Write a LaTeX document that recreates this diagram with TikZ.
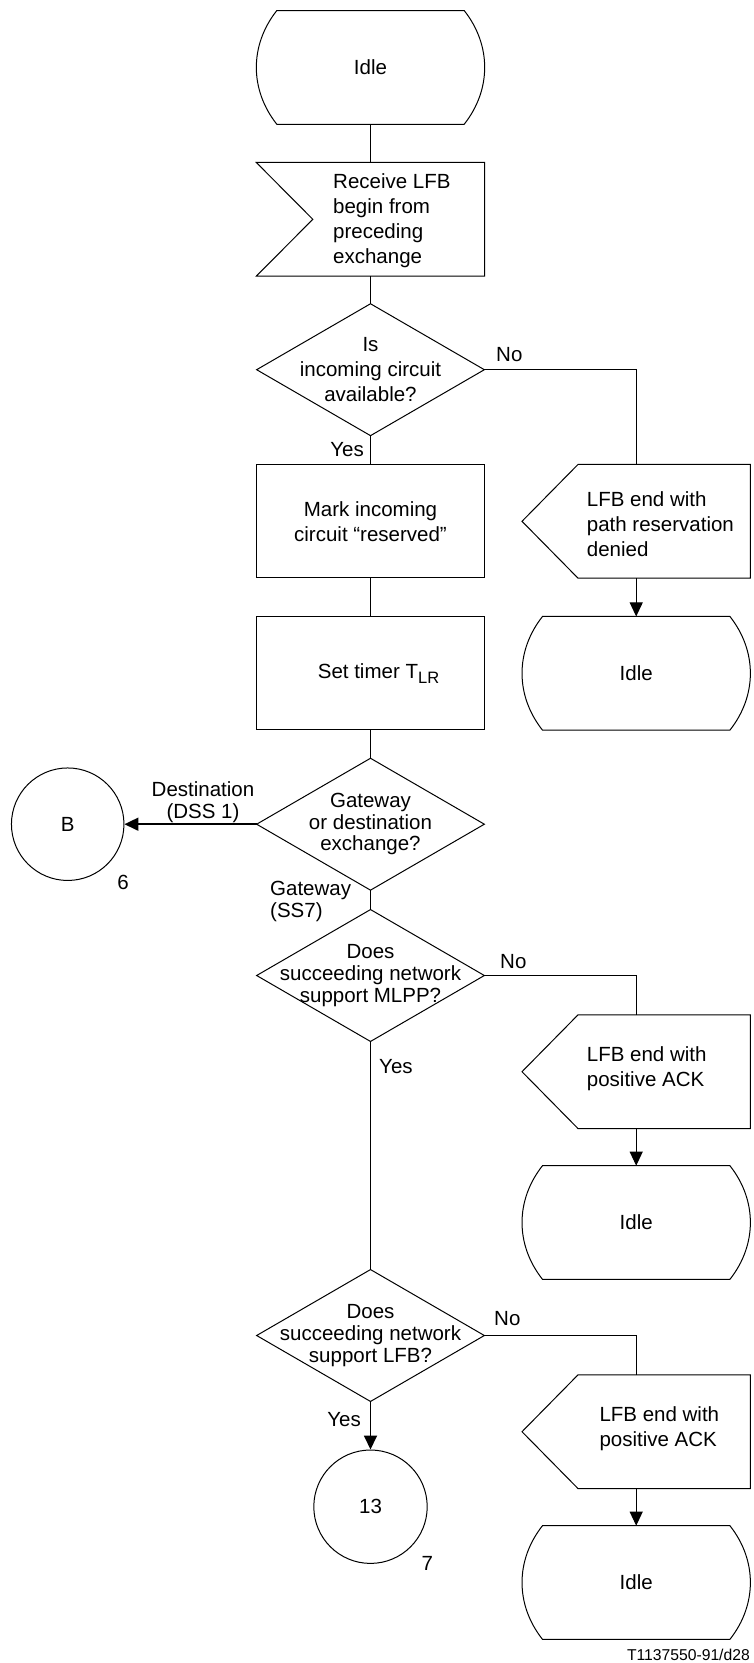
\documentclass[tikz,border=0pt]{standalone}
\usepackage{fontspec}
\setmainfont{Liberation Sans}
\usetikzlibrary{arrows.meta}

% outlines of the SDL symbols, drawn around invisible rectangular nodes
\newcommand\drawidle[1]{%
  \draw[shapeline] ([xshift=20.5pt]#1.north west) -- ([xshift=-20.5pt]#1.north east)
    .. controls ([xshift=6.8pt,yshift=-34.6pt]#1.north east) and ([xshift=6.8pt,yshift=34.6pt]#1.south east)
    .. ([xshift=-20.5pt]#1.south east) -- ([xshift=20.5pt]#1.south west)
    .. controls ([xshift=-6.8pt,yshift=34.6pt]#1.south west) and ([xshift=-6.8pt,yshift=-34.6pt]#1.north west)
    .. cycle;}
\newcommand\drawsend[1]{%
  \draw[shapeline] (#1.north east) -- (#1.south east) -- ([xshift=56pt]#1.south west)
    -- (#1.west) -- ([xshift=56pt]#1.north west) -- cycle;}
\newcommand\drawrecv[1]{%
  \draw[shapeline] (#1.north west) -- (#1.north east) -- (#1.south east)
    -- (#1.south west) -- ([xshift=56.5pt]#1.west) -- cycle;}
\newcommand\drawdiamond[1]{%
  \draw[shapeline] (#1.north) -- (#1.east) -- (#1.south) -- (#1.west) -- cycle;}

\begin{document}
\begin{tikzpicture}[x=1pt,y=-1pt,
  txtfont/.style={font=\fontsize{20.5pt}{25pt}\selectfont, inner sep=0pt},
  tight/.style={font=\fontsize{20.5pt}{21.6pt}\selectfont, inner sep=0pt},
  shapebox/.style={txtfont, rectangle, minimum width=228pt, minimum height=113.3pt, align=center},
  boxnode/.style={shapebox, draw, line width=1pt},
  decide/.style={tight, rectangle, minimum width=227.3pt, minimum height=131.5pt, align=center},
  conn/.style={txtfont, circle, draw, line width=1pt, minimum size=112.5pt},
  shapeline/.style={line width=1pt, line join=miter},
  trunk/.style={line width=1.8pt},
  branch/.style={line width=1pt},
  arrowend/.style={-{Triangle[length=14pt,width=13pt]}},
]
\useasboundingbox (0,0) rectangle (754,1663);

% ---- left column
\node[shapebox] (idle1) at (370.5,67.4) {Idle};
\node[shapebox] (recv) at (370.5,219.3) {};
\node[txtfont, anchor=west, align=left] (recvtxt) at (333,221) {Receive LFB\\begin from\\preceding\\exchange};
\node[decide, font=\fontsize{20.5pt}{25pt}\selectfont] (d1) at (370.5,369.7) {Is\\incoming circuit\\available?};
\node[boxnode] (mark) at (370.5,521.3) {Mark incoming\\circuit “reserved”};
\node[boxnode] (timer) at (370.5,673.3) {\hspace*{16pt}Set timer T\raisebox{-5pt}{\fontsize{16.5pt}{16.5pt}\selectfont LR}};
\node[decide] (d2) at (370.5,824.2) {Gateway\\or destination\\exchange?};
\node[conn] (B) at (67.7,824.2) {B};
\node[decide] (d3) at (370.5,975.5) {Does\\succeeding network\\support MLPP?};
\node[decide] (d4) at (370.5,1335.5) {Does\\succeeding network\\support LFB?};
\node[conn, minimum size=113.4pt] (c13) at (370.5,1506.7) {13};

% ---- right column
\node[shapebox] (end1) at (636.2,521.3) {};
\node[txtfont, anchor=west, align=left] (end1txt) at (586.7,524) {LFB end with\\path reservation\\denied};
\node[shapebox] (idle2) at (636.2,673.3) {Idle};
\node[shapebox] (end2) at (636.2,1071.7) {};
\node[txtfont, anchor=west, align=left] (end2txt) at (586.7,1069) {LFB end with\\positive ACK};
\node[shapebox] (idle3) at (636.2,1222.5) {Idle};
\node[shapebox] (end3) at (636.2,1431.7) {};
\node[txtfont, anchor=west, align=left] (end3txt) at (599.3,1428.5) {LFB end with\\positive ACK};
\node[shapebox] (idle4) at (636.2,1582.5) {Idle};

% ---- symbol outlines
\drawidle{idle1}
\drawrecv{recv}
\drawdiamond{d1}
\drawsend{end1}
\drawidle{idle2}
\drawdiamond{d2}
\drawdiamond{d3}
\drawsend{end2}
\drawidle{idle3}
\drawdiamond{d4}
\drawsend{end3}
\drawidle{idle4}

% ---- flow lines
\draw[trunk] (idle1.south) -- (recv.north);
\draw[trunk] (recv.south) -- (d1.north);
\draw[trunk] (d1.south) -- (mark.north);
\draw[trunk] (mark.south) -- (timer.north);
\draw[trunk] (timer.south) -- (d2.north);
\draw[trunk, arrowend] (d2.west) -- (B.east);
\draw[trunk] (d2.south) -- (d3.north);
\draw[trunk] (d3.south) -- (d4.north);
\draw[trunk, arrowend] (d4.south) -- (c13.north);

\draw[branch] (d1.east) -| (end1.north);
\draw[branch, arrowend] (end1.south) -- (idle2.north);
\draw[branch] (d3.east) -| (end2.north);
\draw[branch, arrowend] (end2.south) -- (idle3.north);
\draw[branch] (d4.east) -| (end3.north);
\draw[branch, arrowend] (end3.south) -- (idle4.north);

% ---- branch labels and references
\node[txtfont, anchor=east] (yes1) at (364,450) {Yes};
\node[txtfont, anchor=west] (no1) at (496,355) {No};
\node[tight, align=center] (dest) at (203,802.3) {Destination\\(DSS 1)};
\node[tight, align=left, anchor=west] (gw) at (270,901.3) {Gateway\\(SS7)};
\node[txtfont, anchor=west] (no2) at (500,961.7) {No};
\node[txtfont, anchor=west] (yes2) at (379,1066.7) {Yes};
\node[txtfont, anchor=west] (no3) at (494,1318.3) {No};
\node[txtfont, anchor=east] (yes3) at (361,1420) {Yes};
\node[txtfont] (six) at (123,882.7) {6};
\node[txtfont] (seven) at (427.3,1563.3) {7};
\node[font=\fontsize{15.7pt}{18pt}\selectfont, anchor=east, inner sep=0pt] (figid) at (750,1655) {T1137550-91/d28};
\end{tikzpicture}
\end{document}
